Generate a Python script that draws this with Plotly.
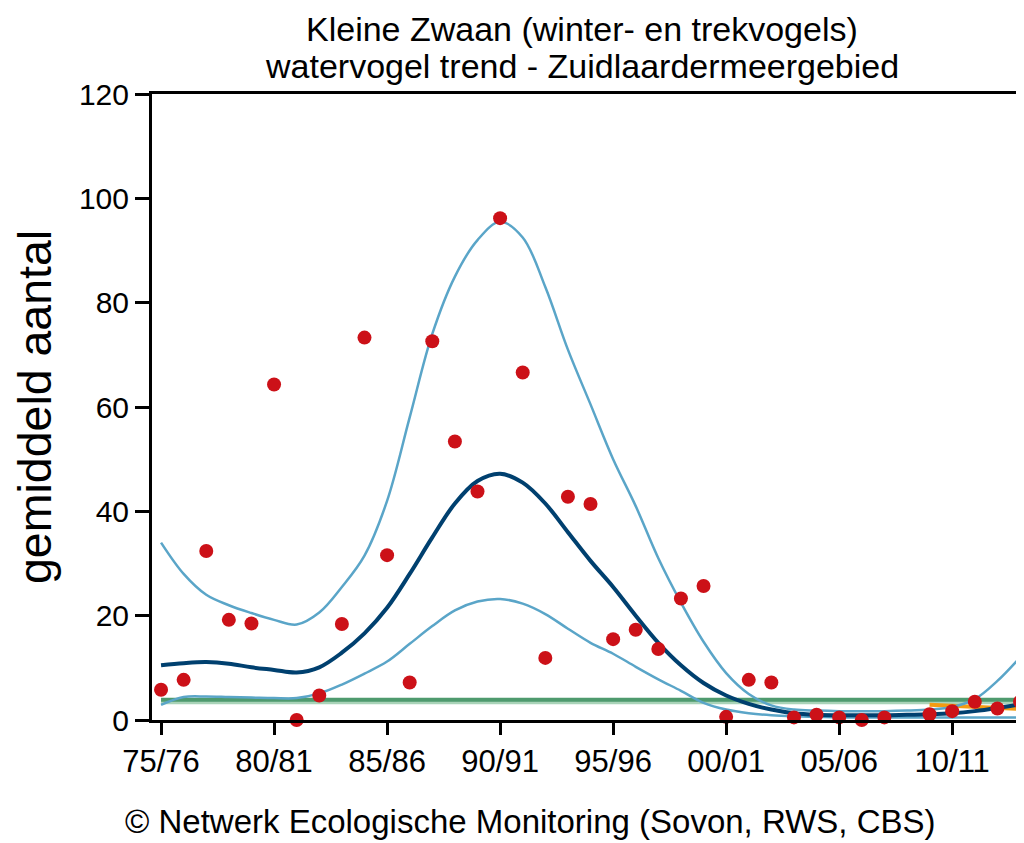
import plotly.graph_objects as go

# ---------------- data ----------------
season_start = list(range(1975, 2014))  # 75/76 ... 13/14
counts = [5.8, 7.7, 32.4, 19.2, 18.5, 64.3, 0.0, 4.7, 18.4, 73.3,
          31.6, 7.2, 72.6, 53.4, 43.8, 96.2, 66.6, 11.9, 42.8, 41.4,
          15.5, 17.3, 13.6, 23.3, 25.7, 0.6, 7.7, 7.2, 0.5, 1.0,
          0.5, 0.0, 0.5, None, 1.1, 1.7, 3.5, 2.2, 3.5]

trend = [10.5, 10.9, 11.1, 10.8, 10.1, 9.6, 9.1, 10.1, 12.9, 16.6,
         21.5, 28.0, 35.0, 41.5, 45.8, 47.2, 45.5, 41.5, 36.0, 30.5,
         25.5, 20.0, 14.8, 10.5, 7.1, 4.7, 3.1, 2.0, 1.3, 1.0,
         0.9, 0.9, 0.9, 1.0, 1.1, 1.3, 1.7, 2.3, 3.0]

upper = [34.0, 28.0, 24.0, 22.0, 20.5, 19.2, 18.3, 20.6, 25.5, 31.5,
         42.0, 58.0, 74.0, 85.0, 92.0, 95.5, 92.5, 83.0, 71.0, 60.5,
         50.0, 41.0, 31.0, 22.5, 15.0, 9.0, 5.0, 2.8, 2.0, 1.8,
         1.7, 1.7, 1.7, 1.8, 2.0, 2.5, 4.0, 7.5, 12.0]

lower = [2.9, 4.4, 4.5, 4.4, 4.3, 4.2, 4.2, 5.1, 6.8, 8.9,
         11.2, 14.6, 18.0, 21.0, 22.7, 23.2, 22.3, 20.3, 17.5, 14.8,
         12.7, 10.2, 7.8, 5.6, 3.3, 2.0, 1.3, 0.9, 0.7, 0.6,
         0.5, 0.5, 0.5, 0.5, 0.5, 0.5, 0.5, 0.5, 0.5]

green_level = 3.9
green_shade_level = 3.6
orange_x = [2009, 2013]
orange_y = [2.9, 2.1]

tick_years = [1975, 1980, 1985, 1990, 1995, 2000, 2005, 2010]
tick_labels = ["75/76", "80/81", "85/86", "90/91", "95/96", "00/01", "05/06", "10/11"]
y_ticks = [0, 20, 40, 60, 80, 100, 120]

title_1 = "Kleine Zwaan (winter- en trekvogels)"
title_2 = "watervogel trend - Zuidlaardermeergebied"
y_title = "gemiddeld aantal"
footer = "© Netwerk Ecologische Monitoring (Sovon, RWS, CBS)"

# ---------------- figure ----------------
FONT = "Liberation Sans, Arial, sans-serif"
fig = go.Figure()

fig.add_trace(go.Scatter(x=[season_start[0], season_start[-1]], y=[green_shade_level] * 2,
                         mode="lines", line=dict(color="#a9d3b8", width=6),
                         hoverinfo="skip", showlegend=False))
fig.add_trace(go.Scatter(x=[season_start[0], season_start[-1]], y=[green_level] * 2,
                         mode="lines", line=dict(color="#4e9a6e", width=4),
                         hoverinfo="skip", showlegend=False))
fig.add_trace(go.Scatter(x=orange_x, y=orange_y, mode="lines",
                         line=dict(color="#f39c12", width=4),
                         hoverinfo="skip", showlegend=False))
fig.add_trace(go.Scatter(x=season_start, y=upper, mode="lines",
                         line=dict(color="#5aa5c8", width=2.5, shape="spline", smoothing=1),
                         showlegend=False))
fig.add_trace(go.Scatter(x=season_start, y=lower, mode="lines",
                         line=dict(color="#5aa5c8", width=2.5, shape="spline", smoothing=1),
                         showlegend=False))
fig.add_trace(go.Scatter(x=season_start, y=trend, mode="lines",
                         line=dict(color="#00406f", width=4, shape="spline", smoothing=1),
                         showlegend=False))
fig.add_trace(go.Scatter(x=season_start, y=counts, mode="markers",
                         marker=dict(color="#cc1118", size=14, line=dict(width=0)),
                         cliponaxis=False, showlegend=False))

# page body adds an 8px margin, so the figure is 8px smaller and shifted accordingly
fig.update_layout(
    width=1016, height=835,
    margin=dict(l=144, r=4, t=86, b=123),
    paper_bgcolor="white", plot_bgcolor="white",
    font=dict(family=FONT, color="black"),
    showlegend=False,
)
fig.update_xaxes(range=[1974.6, 2013.0], tickmode="array", tickvals=tick_years,
                 ticktext=tick_labels, ticks="outside", ticklen=12, tickwidth=3,
                 tickcolor="black", showline=True, linecolor="black", linewidth=3,
                 mirror=True, showgrid=False, zeroline=False,
                 tickfont=dict(size=31, family=FONT))
fig.update_yaxes(range=[0, 120], tickmode="array", tickvals=y_ticks,
                 ticks="outside", ticklen=14, tickwidth=3, tickcolor="black",
                 showline=True, linecolor="black", linewidth=3,
                 showgrid=False, zeroline=False,
                 tickfont=dict(size=30, family=FONT))

fig.add_annotation(text=title_1, xref="paper", yref="paper", x=0.4954, y=1.1374,
                   showarrow=False, font=dict(size=34, family=FONT), xanchor="center", yanchor="top")
fig.add_annotation(text=title_2, xref="paper", yref="paper", x=0.4954, y=1.0447,
                   showarrow=False, font=dict(size=34, family=FONT), xanchor="center", yanchor="middle")
fig.add_annotation(text=y_title, xref="paper", yref="paper", x=-0.1348, y=0.5,
                   textangle=-90, showarrow=False, font=dict(size=46.5, family=FONT),
                   xanchor="center", yanchor="middle")
fig.add_annotation(text=footer, xref="paper", yref="paper", x=0.4366, y=-0.1949,
                   showarrow=False, font=dict(size=33, family=FONT), xanchor="center", yanchor="bottom")

fig.write_html("out.html")
